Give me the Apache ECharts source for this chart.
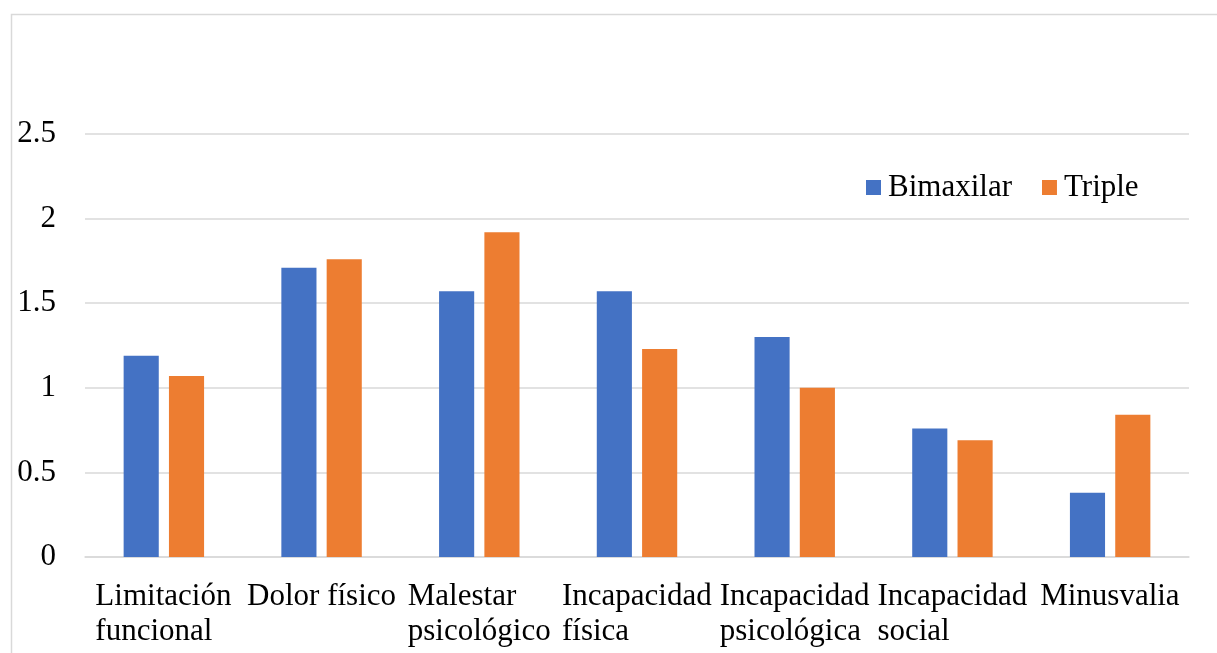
<!DOCTYPE html>
<html>
<head>
<meta charset="utf-8">
<script src="https://cdn.jsdelivr.net/npm/echarts@6/dist/echarts.min.js"></script>
<style>
html,body{margin:0;padding:0;background:#fff;}
#chart{width:1217px;height:653px;}
</style>
</head>
<body>
<div id="chart"></div>
<script>
const categories = ['Limitación\nfuncional', 'Dolor físico', 'Malestar\npsicológico', 'Incapacidad\nfísica', 'Incapacidad\npsicológica', 'Incapacidad\nsocial', 'Minusvalia'];
const bimaxilar = [1.19, 1.71, 1.57, 1.57, 1.30, 0.76, 0.38];
const triple = [1.07, 1.76, 1.92, 1.23, 1.00, 0.69, 0.84];
const yTicks = [0, 0.5, 1, 1.5, 2, 2.5];

const FONT = '"Liberation Serif", "Times New Roman", serif';
const FS = 31;

// measure longest line of each label so lines are left-aligned within a centered block
const ctx = document.createElement('canvas').getContext('2d');
ctx.font = FS + 'px ' + FONT;
const rich = {};
categories.forEach((c, i) => {
  const w = Math.max(...c.split('\n').map(s => ctx.measureText(s).width));
  rich['c' + i] = {width: Math.ceil(w), align: 'left', fontSize: FS, fontFamily: FONT, color: '#000', lineHeight: 35};
});

const chart = echarts.init(document.getElementById('chart'));
chart.setOption({
  backgroundColor: '#fff',
  animation: false,
  graphic: [{
    type: 'rect', left: 9, top: 12, z: -1,
    shape: {width: 1300, height: 800},
    style: {fill: 'none', stroke: '#d9d9d9', lineWidth: 1.5}
  }],
  legend: {
    data: ['Bimaxilar', 'Triple'],
    left: 861, top: 167,
    itemWidth: 15, itemHeight: 15, itemGap: 30,
    icon: 'rect',
    textStyle: {fontSize: FS, fontFamily: FONT, color: '#000', padding: [0, 0, 0, 2]}
  },
  grid: {left: 85, right: 28, top: 134, bottom: 96, containLabel: false},
  xAxis: {
    type: 'category',
    data: categories,
    axisLine: {show: true, lineStyle: {color: '#d9d9d9', width: 1.5}},
    axisTick: {show: false},
    axisLabel: {
      interval: 0, margin: 22,
      formatter: (v, i) => v.split('\n').map(s => '{c' + i + '|' + s + '}').join('\n'),
      rich: rich
    }
  },
  yAxis: {
    type: 'value',
    min: yTicks[0], max: yTicks[yTicks.length - 1], interval: 0.5,
    axisLine: {show: false},
    axisTick: {show: false},
    splitLine: {lineStyle: {color: '#d9d9d9', width: 1.5}},
    axisLabel: {margin: 29, fontSize: FS, fontFamily: FONT, color: '#000', padding: [3, 0, 0, 0]}
  },
  series: [
    {name: 'Bimaxilar', type: 'bar', data: bimaxilar, itemStyle: {color: '#4472C4'}, barGap: '29%', barCategoryGap: '49%'},
    {name: 'Triple', type: 'bar', data: triple, itemStyle: {color: '#ED7D31'}}
  ]
});
</script>
</body>
</html>
